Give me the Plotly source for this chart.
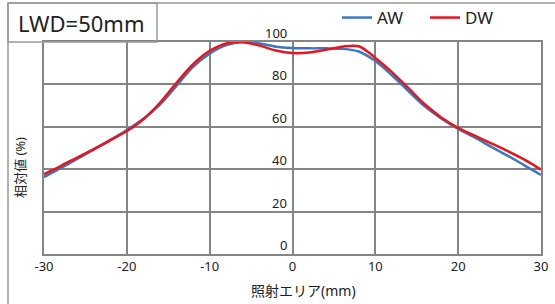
import plotly.graph_objects as go

x_mm = [-30, -28, -26, -24, -22, -20, -18, -16, -14, -12, -10, -8, -6, -4, -2, 0,
        2, 4, 6, 8, 10, 12, 14, 16, 18, 20, 22, 24, 26, 28, 30]
aw = [36.3, 40.5, 44.8, 49.2, 53.8, 58.5, 63.8, 70.5, 79.3, 88.3, 94.5, 98.5, 100, 99.3, 97.8, 97.2,
      97, 97, 96.8, 95.5, 91, 84.3, 76.8, 69.5, 63.8, 59, 55, 50.5, 46.3, 41.8, 37.3]
dw = [37.7, 41.5, 45.5, 49.5, 53.6, 58, 63.6, 71.3, 80.7, 89.5, 95.8, 99.3, 99.9, 98.3, 96, 94.8,
      95, 96.3, 97.8, 98, 92.5, 85.8, 78.2, 70.5, 64.3, 59.5, 55.8, 52.2, 48.5, 44.5, 39.8]
x_ticks = [-30, -20, -10, 0, 10, 20, 30]
x_tick_text = ["-30", "-20", "-10", "0", "10", "20", "30"]
y_ticks = [0, 20, 40, 60, 80, 100]

FONT = "Noto Sans, Noto Sans CJK JP, sans-serif"
W, H = 555, 304
L, R, T, B = 44, 14, 42, 50
pw, ph = W - L - R, H - T - B

def px(v):
    return (v - L) / pw

def py(v):
    return (H - B - v) / ph

fig = go.Figure()
fig.add_trace(go.Scatter(x=x_mm, y=aw, mode="lines", name="AW",
                         line=dict(color="#3a78c0", width=2.5, shape="spline", smoothing=0.9)))
fig.add_trace(go.Scatter(x=x_mm, y=dw, mode="lines", name="DW",
                         line=dict(color="#e8141e", width=2.5, shape="spline", smoothing=0.9)))

grid = "#858585"
fig.update_xaxes(range=[-30, 30], tickvals=x_ticks, ticktext=x_tick_text, showgrid=True,
                 gridcolor=grid, gridwidth=1.5, automargin=False,
                 zeroline=False, showline=True, linecolor=grid, linewidth=1.5, mirror=True,
                 ticks="", ticklen=0, tickfont=dict(family=FONT, size=13, color="#222"))
fig.update_yaxes(range=[0, 100], tickvals=y_ticks, showgrid=True, gridcolor=grid, gridwidth=1.5,
                 zeroline=False, showline=True, linecolor=grid, linewidth=1.5, mirror=True,
                 showticklabels=False, ticks="", automargin=False)

for v in y_ticks:
    fig.add_annotation(x=0, y=v, xref="x", yref="y", text=str(v), showarrow=False,
                       xanchor="right", yanchor="bottom", xshift=-4, yshift=-2,
                       font=dict(family=FONT, size=13, color="#222"))

fig.add_annotation(x=px(303), y=py(290), xref="paper", yref="paper", text="照射エリア(mm)",
                   showarrow=False, xanchor="center", yanchor="middle",
                   font=dict(family=FONT, size=14, color="#222"))
fig.add_annotation(x=px(20), y=py(168), xref="paper", yref="paper", text="相対値 (%)",
                   textangle=-90, showarrow=False, xanchor="center", yanchor="middle",
                   font=dict(family=FONT, size=13, color="#222"))

frame = "#999999"
fig.add_shape(type="line", xref="paper", yref="paper", x0=px(8), x1=px(560), y0=py(3), y1=py(3),
              line=dict(color=frame, width=1.5))
fig.add_shape(type="line", xref="paper", yref="paper", x0=px(8), x1=px(8), y0=py(3), y1=py(310),
              line=dict(color=frame, width=1.5))
fig.add_shape(type="rect", xref="paper", yref="paper", x0=px(8), x1=px(157), y0=py(3), y1=py(42),
              line=dict(color=frame, width=1.5))
fig.add_annotation(x=px(81), y=py(23), xref="paper", yref="paper", text="LWD=50mm", showarrow=False,
                   xanchor="center", yanchor="middle", font=dict(family=FONT, size=22, color="#222"))

fig.update_layout(
    width=W, height=H, margin=dict(l=L, r=R, t=T, b=B, autoexpand=False),
    paper_bgcolor="white", plot_bgcolor="white",
    showlegend=True,
    legend=dict(orientation="h", x=px(337), y=py(18), xanchor="left", yanchor="middle",
                font=dict(family=FONT, size=17, color="#222"), bgcolor="rgba(0,0,0,0)",
                itemwidth=30, tracegroupgap=0, entrywidth=43, entrywidthmode="pixels"),
)

fig.write_html("out.html", config={"displayModeBar": False},
               post_script="document.body.style.margin='0';document.body.style.overflow='hidden';")
